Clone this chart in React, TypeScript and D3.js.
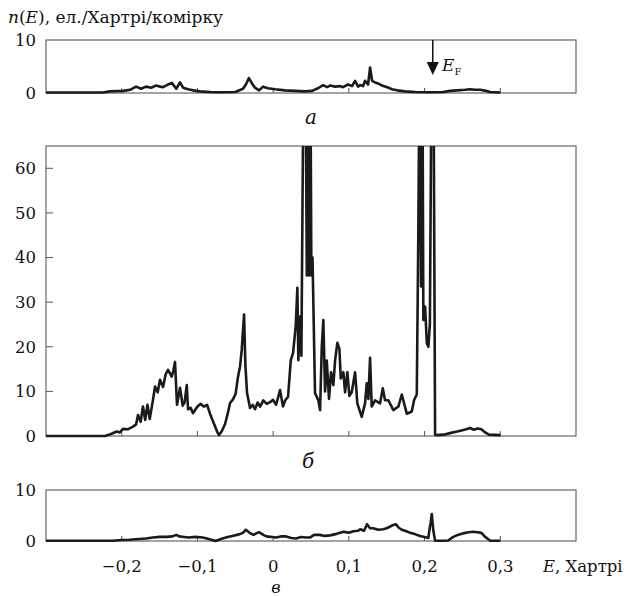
import React from "react";
import * as d3 from "d3";

// ---------- data ----------
// panel a
const energyA = [-0.3, -0.225, -0.2155, -0.198, -0.189, -0.181, -0.1745, -0.168, -0.161, -0.155, -0.149, -0.1455, -0.139, -0.1336, -0.128, -0.123, -0.119, -0.1124, -0.106, -0.0966, -0.083, -0.07, -0.05, -0.0398, -0.036, -0.032, -0.028, -0.024, -0.0186, -0.0133, -0.0067, 0.0025, 0.0157, 0.029, 0.042, 0.0514, 0.0593, 0.066, 0.0712, 0.0752, 0.0818, 0.0884, 0.0923, 0.099, 0.1042, 0.1082, 0.1122, 0.1148, 0.1188, 0.1214, 0.1254, 0.128, 0.1307, 0.1346, 0.1386, 0.1439, 0.1505, 0.157, 0.1637, 0.1742, 0.1875, 0.2073, 0.2244, 0.2337, 0.2429, 0.2535, 0.2601, 0.2667, 0.2733, 0.2812, 0.2865, 0.3];
const dosA = [0.1, 0.1, 0.3, 0.4, 0.6, 1.2, 0.8, 1.2, 1.0, 1.4, 1.2, 1.1, 1.6, 1.9, 0.8, 2.0, 1.0, 0.7, 0.5, 0.3, 0.2, 0.15, 0.2, 0.8, 1.6, 2.8, 1.8, 1.0, 0.5, 1.2, 0.9, 0.7, 0.5, 0.4, 0.3, 0.4, 0.9, 1.5, 1.1, 1.4, 1.2, 1.3, 1.1, 1.6, 1.3, 2.3, 1.2, 1.5, 1.3, 2.3, 1.6, 4.8, 2.3, 2.0, 1.8, 1.4, 1.1, 0.7, 0.5, 0.3, 0.2, 0.15, 0.2, 0.4, 0.5, 0.6, 0.7, 0.6, 0.6, 0.4, 0.2, 0.1];

// panel б
const energyB = [-0.3, -0.25, -0.222, -0.215, -0.2066, -0.2025, -0.1983, -0.192, -0.185, -0.181, -0.1785, -0.175, -0.1719, -0.169, -0.166, -0.163, -0.1587, -0.156, -0.1525, -0.1494, -0.1454, -0.142, -0.1388, -0.134, -0.1318, -0.1296, -0.127, -0.123, -0.1195, -0.117, -0.1141, -0.1124, -0.109, -0.1058, -0.1005, -0.096, -0.0915, -0.0873, -0.0834, -0.0768, -0.074, -0.0715, -0.0675, -0.0635, -0.06, -0.0569, -0.053, -0.0495, -0.0464, -0.0437, -0.0415, -0.0384, -0.0367, -0.0345, -0.0305, -0.027, -0.024, -0.0205, -0.0173, -0.013, -0.0085, -0.004, -0.0001, 0.004, 0.0091, 0.013, 0.016, 0.0197, 0.0233, 0.0263, 0.0298, 0.032, 0.0333, 0.0355, 0.0373, 0.04, 0.0425, 0.0445, 0.046, 0.0475, 0.049, 0.0505, 0.052, 0.0553, 0.0597, 0.062, 0.0642, 0.0663, 0.0686, 0.0708, 0.0738, 0.0765, 0.0795, 0.0818, 0.0848, 0.0875, 0.0893, 0.0927, 0.095, 0.098, 0.1007, 0.1038, 0.1082, 0.1112, 0.117, 0.1214, 0.1236, 0.1258, 0.128, 0.1302, 0.1346, 0.1412, 0.1448, 0.1478, 0.1522, 0.1588, 0.1654, 0.1699, 0.1765, 0.1831, 0.1861, 0.1897, 0.1918, 0.1935, 0.1954, 0.197, 0.1984, 0.2007, 0.203, 0.205, 0.207, 0.2095, 0.2116, 0.2139, 0.216, 0.225, 0.235, 0.243, 0.25, 0.255, 0.26, 0.265, 0.27, 0.275, 0.28, 0.285, 0.3];
const dosB = [0, 0, 0, 0.4, 1.0, 0.8, 1.6, 1.5, 2.1, 2.6, 4.7, 3.2, 6.6, 3.6, 7.0, 3.8, 8.1, 11.1, 9.8, 12.6, 11.0, 13.8, 14.8, 13.3, 14.6, 16.6, 7.0, 10.8, 6.8, 7.5, 11.4, 6.0, 6.3, 5.1, 6.5, 7.2, 6.6, 7.0, 5.0, 2.2, 1.0, 0.2, 1.2, 2.7, 5.0, 7.4, 8.2, 9.5, 13.3, 15.6, 19.3, 27.2, 16.0, 9.7, 6.3, 7.0, 6.0, 7.5, 6.6, 8.0, 7.2, 7.6, 8.1, 7.0, 10.3, 6.6, 8.0, 8.8, 17.0, 18.6, 24.6, 33.2, 17.0, 26.8, 18.0, 80, 90, 36, 90, 36, 90, 36, 40, 9.6, 8.0, 5.8, 19.8, 26.0, 10.0, 16.9, 8.3, 14.3, 11.4, 16.9, 20.9, 19.5, 12.9, 14.3, 9.8, 14.3, 9.0, 9.8, 14.3, 7.3, 4.3, 7.3, 11.8, 8.3, 17.5, 6.6, 8.0, 7.3, 10.7, 8.0, 8.0, 5.8, 6.6, 9.3, 5.0, 5.5, 8.0, 9.3, 46.3, 90, 33.5, 90, 26, 29, 20.8, 20.0, 25.0, 90, 90, 0.3, 0.2, 0.3, 0.7, 1.0, 1.3, 1.5, 1.8, 1.4, 1.7, 1.5, 0.8, 0.3, 0.2];

// panel в
const energyC = [-0.3, -0.212, -0.2, -0.19, -0.177, -0.168, -0.159, -0.15, -0.141, -0.133, -0.128, -0.124, -0.118, -0.111, -0.103, -0.093, -0.085, -0.076, -0.067, -0.06, -0.054, -0.045, -0.04, -0.036, -0.031, -0.026, -0.021, -0.018, -0.013, -0.009, 0.004, 0.01, 0.017, 0.024, 0.03, 0.037, 0.043, 0.049, 0.054, 0.062, 0.068, 0.075, 0.084, 0.093, 0.1, 0.106, 0.112, 0.115, 0.12, 0.124, 0.128, 0.132, 0.139, 0.145, 0.15, 0.154, 0.158, 0.162, 0.166, 0.17, 0.176, 0.181, 0.188, 0.194, 0.2, 0.205, 0.207, 0.208, 0.2095, 0.2116, 0.2139, 0.225, 0.231, 0.238, 0.244, 0.251, 0.258, 0.264, 0.27, 0.275, 0.28, 0.287, 0.3];
const dosC = [0.05, 0.05, 0.2, 0.25, 0.4, 0.5, 0.7, 0.8, 0.8, 0.9, 1.2, 0.9, 0.8, 0.7, 0.8, 0.7, 0.4, 0.0, 0.5, 0.8, 1.0, 1.3, 1.6, 2.2, 1.6, 1.2, 1.6, 1.7, 1.2, 0.9, 0.7, 0.9, 0.9, 0.6, 0.5, 0.8, 0.7, 0.7, 1.2, 1.2, 1.0, 1.1, 1.4, 1.8, 1.6, 1.9, 2.0, 2.3, 2.0, 3.3, 2.5, 2.5, 2.2, 2.3, 2.5, 2.8, 3.1, 3.3, 2.6, 2.2, 1.9, 1.6, 1.3, 1.0, 0.8, 0.6, 2.8, 3.5, 5.3, 2.0, 0.05, 0.05, 0.1, 0.8, 1.2, 1.5, 1.7, 1.8, 1.7, 1.6, 0.8, 0.05, 0.05];

const xTickValues = [-0.2, -0.1, 0, 0.1, 0.2, 0.3];
const xTickLabels = ["\u22120,2", "\u22120,1", "0", "0,1", "0,2", "0,3"];
const midYTicks = [0, 10, 20, 30, 40, 50, 60];
const smallYTicks = [0, 10];
const fermiEnergy = 0.2095;

const FONT = "'DejaVu Serif', 'Liberation Serif', serif";

type Panel = {
  key: string;
  energies: number[];
  dos: number[];
  top: number;
  bottom: number;
  yMax: number;
  yTicks: number[];
  label: string;
  labelX: number;
  labelY: number;
  labelSize: number;
};

export default function App() {
  const left = 46;
  const right = 576;
  const x = d3.scaleLinear().domain([-0.3, 0.4]).range([left, right]);

  const panels: Panel[] = [
    { key: "a", energies: energyA, dos: dosA, top: 40, bottom: 93, yMax: 10, yTicks: smallYTicks, label: "а", labelX: 311, labelY: 124, labelSize: 20 },
    { key: "b", energies: energyB, dos: dosB, top: 146, bottom: 436, yMax: 65, yTicks: midYTicks, label: "б", labelX: 308, labelY: 468, labelSize: 20 },
    { key: "c", energies: energyC, dos: dosC, top: 490, bottom: 541, yMax: 10, yTicks: smallYTicks, label: "в", labelX: 276, labelY: 593, labelSize: 16 },
  ];

  const txt = { fontFamily: FONT } as React.CSSProperties;

  return (
    <svg
      width={644}
      height={597}
      style={{ position: "absolute", left: 0, top: 0, background: "#fff", fontFamily: FONT }}
    >
      <rect x={0} y={0} width={644} height={597} fill="#fff" />
      <text x={8} y={23} fontSize={17} fill="#111" style={txt}>
        <tspan fontStyle="italic">n</tspan>
        <tspan>(</tspan>
        <tspan fontStyle="italic">E</tspan>
        <tspan>),  ел./Хартрі/комірку</tspan>
      </text>
      {panels.map((p) => {
        const y = d3.scaleLinear().domain([0, p.yMax]).range([p.bottom, p.top]);
        const pts: [number, number][] = p.energies.map((e, i) => [e, p.dos[i]]);
        const line = d3
          .line<[number, number]>()
          .x((d) => x(d[0]))
          .y((d) => y(d[1]));
        const clipId = `clip-${p.key}`;
        const isMid = p.key === "b";
        return (
          <g key={p.key}>
            <defs>
              <clipPath id={clipId}>
                <rect x={left} y={p.top} width={right - left} height={p.bottom - p.top + 2} />
              </clipPath>
            </defs>
            <rect x={left} y={p.top} width={right - left} height={p.bottom - p.top} fill="none" stroke="#666" strokeWidth={1.2} />
            {xTickValues.map((t) => (
              <line key={t} x1={x(t)} x2={x(t)} y1={p.bottom} y2={p.bottom - 5} stroke="#555" strokeWidth={1} />
            ))}
            {isMid &&
              p.yTicks.filter((t) => t > 0).map((t) => (
                <line key={t} x1={left} x2={left + 7} y1={y(t)} y2={y(t)} stroke="#555" strokeWidth={1} />
              ))}
            {p.yTicks.map((t) => (
              <text key={t} x={36} y={y(t)} dy="0.36em" textAnchor="end" fontSize={16.5} fill="#111" style={txt}>
                {t}
              </text>
            ))}
            <path d={line(pts) ?? ""} fill="none" stroke="#1a1a1a" strokeWidth={2.6} strokeLinejoin="round" clipPath={`url(#${clipId})`} />
            <text x={p.labelX} y={p.labelY} fontSize={p.labelSize} fontStyle="italic" textAnchor="middle" fill="#111" style={txt}>
              {p.label}
            </text>
          </g>
        );
      })}
      {/* Fermi level arrow */}
      <line x1={x(fermiEnergy) + 1} x2={x(fermiEnergy) + 1} y1={40} y2={63} stroke="#111" strokeWidth={1.5} />
      <path
        d={`M${x(fermiEnergy) - 5},62 L${x(fermiEnergy) + 7},62 L${x(fermiEnergy) + 1},75 Z`}
        fill="#111"
      />
      <text x={442} y={71} fontSize={17} fill="#111" style={txt}>
        <tspan fontStyle="italic">E</tspan>
        <tspan fontSize={10} dy={4}>F</tspan>
      </text>
      {/* x tick labels */}
      {xTickValues.map((t, i) => (
        <text key={t} x={x(t)} y={572} textAnchor="middle" fontSize={16.5} fill="#111" style={txt}>
          {xTickLabels[i]}
        </text>
      ))}
      <text x={543} y={572} fontSize={16.5} fill="#111" style={txt}>
        <tspan fontStyle="italic">E</tspan>
        <tspan>,  Хартрі</tspan>
      </text>
    </svg>
  );
}
